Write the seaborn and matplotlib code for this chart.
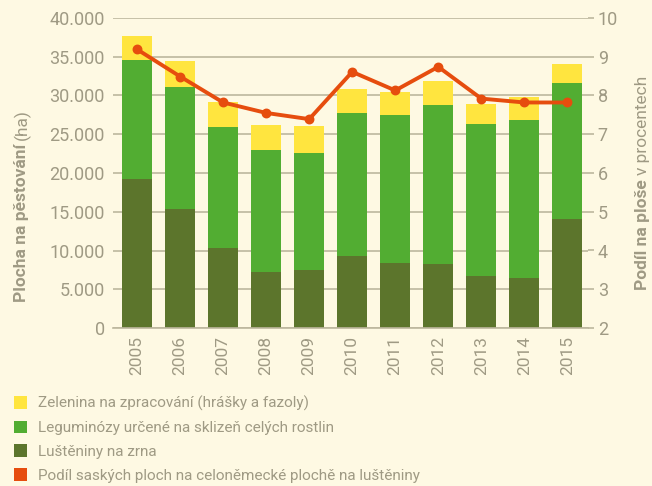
import numpy as np
import pandas as pd
import matplotlib.pyplot as plt
import seaborn as sns
from matplotlib.patches import Patch
from matplotlib.ticker import FuncFormatter

years = [str(y) for y in range(2005, 2016)]
grain = [19200, 15350, 10300, 7200, 7500, 9300, 8400, 8300, 6700, 6500, 14100]   # Luštěniny na zrna
whole = [15400, 15750, 15600, 15800, 15100, 18400, 19100, 20500, 19600, 20300, 17500]  # Leguminózy
veg = [3100, 3400, 3300, 3200, 3500, 3100, 3000, 3100, 2600, 3000, 2500]  # Zelenina
share = [9.19, 8.49, 7.82, 7.55, 7.39, 8.61, 8.13, 8.74, 7.92, 7.82, 7.82]  # podíl v %

labels = [
    "Zelenina na zpracování (hrášky a fazoly)",
    "Leguminózy určené na sklizeň celých rostlin",
    "Luštěniny na zrna",
    "Podíl saských ploch na celoněmecké plochě na luštěniny",
]
c_veg, c_whole, c_grain, c_line = "#FFE53F", "#52AD32", "#5C752C", "#E64D0E"
bg = "#FEF9E3"
grid_c = "#BDB79E"
txt_c = "#9F9A84"

sns.set_theme(style="white")
plt.rcParams["font.family"] = ["Roboto", "DejaVu Sans"]

df = pd.DataFrame({"rok": years, "grain": grain, "whole": whole, "veg": veg})
df["mid"] = df["grain"] + df["whole"]
df["top"] = df["mid"] + df["veg"]

fig = plt.figure(figsize=(6.52, 4.86), dpi=100, facecolor=bg)
ax = fig.add_axes([113 / 652, 1 - 328 / 486, (588 - 113) / 652, 310 / 486])
ax.set_facecolor(bg)

for col, c in [("top", c_veg), ("mid", c_whole), ("grain", c_grain)]:
    sns.barplot(data=df, x="rok", y=col, color=c, width=0.7, saturation=1,
                ax=ax, zorder=2, linewidth=0)

ax.set_ylim(0, 40000)
ax.set_xlim(-0.56, 10.48)
ax.set_yticks(np.arange(0, 40001, 5000))
ax.yaxis.set_major_formatter(FuncFormatter(lambda v, p: f"{int(v):,}".replace(",", ".")))
ax.grid(axis="y", color=grid_c, linewidth=1.2, zorder=0)
ax.set_axisbelow(True)
for s in ["top", "left", "right"]:
    ax.spines[s].set_visible(False)
ax.spines["bottom"].set_color(grid_c)
ax.spines["bottom"].set_linewidth(1.2)
ax.tick_params(axis="y", length=0, labelsize=13, labelcolor=txt_c, pad=6)
ax.tick_params(axis="x", length=0, labelsize=12.5, labelcolor=txt_c, rotation=90, pad=6)
ax.set_xlabel("")
ax.set_ylabel("")

ax2 = ax.twinx()
ax2.set_zorder(3)
sns.pointplot(x=years, y=share, color=c_line, ax=ax2, markers="o",
              markersize=5, linewidth=2.8)
ax2.set_ylim(2, 10)
ax2.set_xlim(-0.56, 10.48)
ax2.set_yticks(np.arange(2, 11, 1))
for s in ["top", "left", "right", "bottom"]:
    ax2.spines[s].set_visible(False)
ax2.tick_params(axis="y", length=4, width=1.2, color=grid_c, labelsize=13,
                labelcolor=txt_c, pad=3)
ax2.set_ylabel("")
ax2.set_xlabel("")

# two-part rotated axis labels (bold + normal)
fig.canvas.draw()
r = fig.canvas.get_renderer()


def two_part(x, y0, bold, normal):
    t1 = fig.text(x, y0, bold, rotation=90, fontsize=12.5, fontweight="bold",
                  color=txt_c, ha="center", va="bottom", transform=None)
    bb = t1.get_window_extent(r)
    fig.text(x, bb.y1 + 4, normal, rotation=90, fontsize=12.5, color=txt_c,
             ha="center", va="bottom", transform=None)


two_part(22, 486 - 302, "Plocha na pěstování", "(ha)")
two_part(642, 486 - 290, "Podíl na ploše", "v procentech")

handles = [Patch(facecolor=c, edgecolor="none") for c in [c_veg, c_whole, c_grain, c_line]]
fig.legend(handles, labels, loc="upper left", bbox_to_anchor=(0.012, 1 - 390 / 486),
           frameon=False, fontsize=11, labelcolor=txt_c, handlelength=0.85,
           handleheight=0.9, handletextpad=0.75, labelspacing=0.6, borderaxespad=0)

fig.savefig("out.png", dpi=100, facecolor=bg)
